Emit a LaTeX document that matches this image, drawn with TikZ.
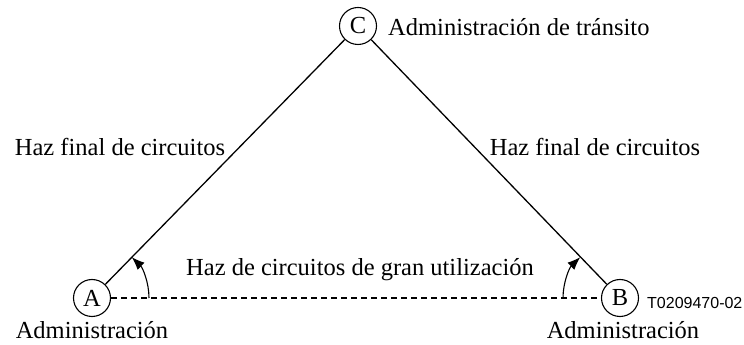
\documentclass[tikz,border=0pt]{standalone}
\usepackage{fontspec}
\setmainfont{Liberation Serif}
\newfontfamily\codefont{Liberation Sans}
\usetikzlibrary{arrows.meta,calc}
\tikzset{
  station/.style={circle,draw,line width=1.1pt,minimum size=37pt,inner sep=0pt,font=\fontsize{24.5}{28}\selectfont},
  lbl/.style={inner sep=0pt,font=\fontsize{24.5}{28}\selectfont},
  codelbl/.style={inner sep=0pt,anchor=west,font=\codefont\fontsize{16}{18}\selectfont},
  trunk/.style={line width=1.3pt},
  hutrunk/.style={line width=1.3pt,dash pattern=on 6pt off 4pt},
  turn/.style={line width=1.1pt,-{Latex[length=13pt,width=10pt]}}
}
\begin{document}
\begin{tikzpicture}[x=1pt,y=1pt]
\useasboundingbox (0,0) rectangle (744,345);
\node[station] (A) at (92,47) {A};
\node[station] (B) at (620,47) {B};
\node[station] (C) at (358,319) {C};
\draw[trunk] (A) -- (C);
\draw[trunk] (C) -- (B);
\draw[hutrunk] (A) -- (B);
\coordinate (a0) at ($(A.center)+(57,0)$);
\coordinate (b0) at ($(B.center)+(-57,0)$);
\draw[turn] (a0) arc[start angle=0,end angle=45.8,radius=57pt];
\draw[turn] (b0) arc[start angle=180,end angle=134.2,radius=57pt];
\node[lbl,anchor=west] (ct) at (388,318) {Administración de tránsito};
\node[lbl] (hl) at (120,198) {Haz final de circuitos};
\node[lbl] (hr) at (595,198) {Haz final de circuitos};
\node[lbl] (hm) at (360,75) {Haz de circuitos de gran utilización};
\node[lbl,anchor=base] (aa) at (92,6) {Administración};
\node[lbl,anchor=base] (ab) at (623,6) {Administración};
\node[codelbl] (code) at (647,42) {T0209470-02};
\end{tikzpicture}
\end{document}
